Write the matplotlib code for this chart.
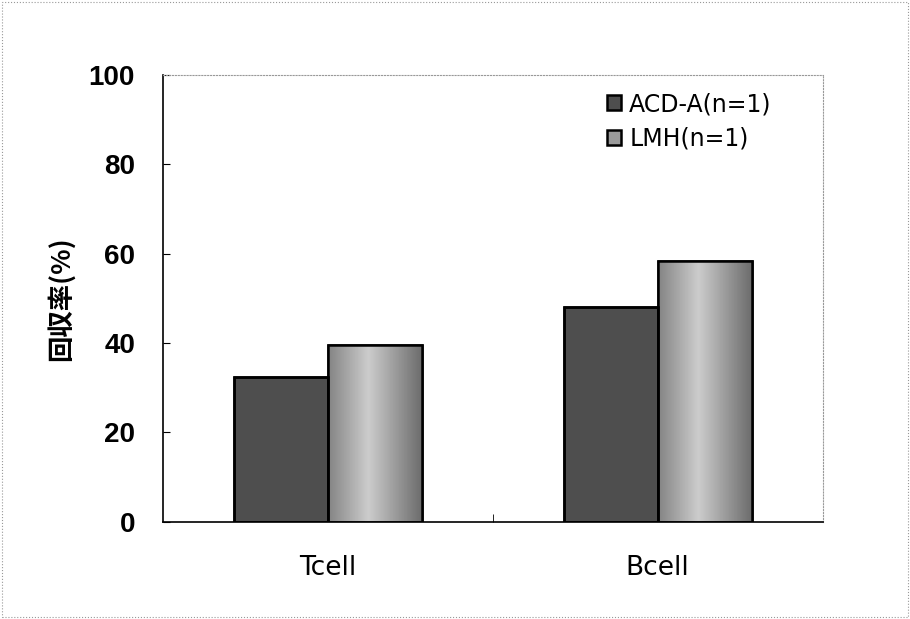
import matplotlib
matplotlib.use('Agg')
import matplotlib.pyplot as plt
import numpy as np

plt.rcParams['font.family'] = ['DejaVu Sans', 'Noto Sans CJK JP']

categories = ['Tcell', 'Bcell']
acd_a = [32.5, 48.0]
lmh = [39.5, 58.3]
series_labels = ['ACD-A(n=1)', 'LMH(n=1)']

fig = plt.figure(figsize=(9.1, 6.19), dpi=100)
ax = fig.add_axes([0.179, 0.157, 0.725, 0.722])

x = np.arange(len(categories))
w = 0.285

bars1 = ax.bar(x - w / 2, acd_a, w, color='#4e4e4e', edgecolor='black', linewidth=1.8,
               label=series_labels[0], zorder=2)
bars2 = ax.bar(x + w / 2, lmh, w, color='#9a9a9a', edgecolor='black', linewidth=1.8,
               label=series_labels[1], zorder=2)

# gradient fill for the LMH bars (lighter near the middle)
t = np.linspace(-1, 1, 64)
grad = 0.80 - 0.33 * np.abs(t + 0.15)
grad = np.tile(grad, (2, 1))
for b in bars2:
    bx, by = b.get_x(), b.get_y()
    im = ax.imshow(grad, cmap='gray', vmin=0, vmax=1, aspect='auto',
                   extent=(bx, bx + b.get_width(), by, by + b.get_height()), zorder=2.5)
    im.set_clip_path(b)
for b in list(bars1) + list(bars2):
    ax.add_patch(plt.Rectangle((b.get_x(), b.get_y()), b.get_width(), b.get_height(), fill=False,
                               edgecolor='black', linewidth=1.8, zorder=3))

ax.set_xlim(-0.5, 1.5)
ax.set_ylim(0, 100)
ax.set_yticks([0, 20, 40, 60, 80, 100])
ax.set_yticklabels(['0', '20', '40', '60', '80', '100'],
                   family=['Liberation Sans', 'DejaVu Sans'], fontweight='bold', fontsize=20)
ax.set_xticks(x)
ax.set_xticklabels(categories, fontsize=19)
ax.tick_params(axis='x', length=0, pad=24)
ax.tick_params(axis='y', direction='in', length=5, pad=20)
ax.set_xticks([0.5], minor=True)
ax.tick_params(axis='x', which='minor', direction='in', length=6)

ax.set_ylabel('回収率(%)', fontsize=19, fontweight='bold', labelpad=10,
              family=['Noto Sans CJK JP', 'DejaVu Sans'])

for s in ['top', 'right']:
    ax.spines[s].set_color('#999999')
    ax.spines[s].set_linestyle(':')
    ax.spines[s].set_linewidth(0.8)
ax.spines['left'].set_linewidth(1.2)
ax.spines['bottom'].set_linewidth(1.2)

ax.legend(loc='upper left', frameon=False, fontsize=17, handlelength=0.6,
          handleheight=0.6, handletextpad=0.35, labelspacing=0.45, borderpad=0,
          bbox_to_anchor=(0.655, 0.988))

fig.patches.append(plt.Rectangle((0.002, 0.003), 0.996, 0.994, transform=fig.transFigure,
                                 fill=False, edgecolor='#999999', linestyle=':', linewidth=0.8))

fig.savefig('out.png', dpi=100)
